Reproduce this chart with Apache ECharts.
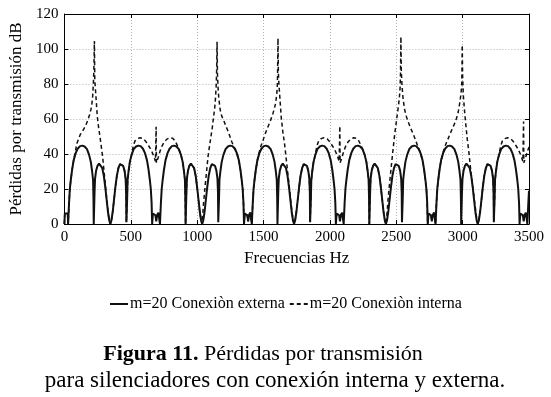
<!DOCTYPE html>
<html><head><meta charset="utf-8">
<script src="https://cdn.jsdelivr.net/npm/echarts@6/dist/echarts.min.js"></script>
<style>html,body{margin:0;padding:0;background:#fff}#c{width:551px;height:397px}</style>
</head><body><div id="c"></div>
<script>
// X axis (Hz) and Y axis (dB) ranges / ticks
const xMin = 0, xMax = 3500, xStep = 500;
const yMin = 0, yMax = 120, yStep = 20;
const xTitle = 'Frecuencias Hz';
const yTitle = 'Pérdidas por transmisión dB';
const seriesNames = ['m=20 Conexiòn externa', 'm=20 Conexiòn interna'];

// m=20 Conexiòn externa : [Hz, dB]
const externa = [
[0,0],[3,6],[16,6.5],[25,6],[28,0],
[31,0],[35,12],[41,20],[48,25],[58,31],[70,36.5],[85,40.5],[100,43],[118,44.5],[135,44.8],[152,44.3],[170,42.8],[186,39.5],[199,35.5],[209,30],[216,25],[219,15],[221,0],
[225,0],[227,18],[231,26],[239,30.5],[249,33.2],[261,34.5],[273,34.2],[285,32],[297,27.5],[308,21],[318,14],[328,7],[338,2],[346,0],
[354,2],[364,7],[374,14],[384,21],[395,27.5],[407,32],[419,34.2],[431,34.5],[443,33.2],[453,30.5],[461,26],[465,18],[467,1],
[471,0],[473,15],[476,25],[483,30],[493,35.5],[506,39.5],[522,42.8],[540,44.3],[557,44.8],[574,44.5],[592,43],[607,40.5],[622,36.5],[634,31],[644,25],[651,20],[657,12],[661,0],
[664,0],[667,6],[676,6.5],[686,5],[692,1.5],[698,5],[708,6.5],[717,6],[720,0],
[723,0],[727,12],[733,20],[740,25],[750,31],[762,36.5],[777,40.5],[792,43],[810,44.5],[827,44.8],[844,44.3],[862,42.8],[878,39.5],[891,35.5],[901,30],[908,25],[911,15],[913,0],
[917,0],[919,18],[923,26],[931,30.5],[941,33.2],[953,34.5],[965,34.2],[977,32],[989,27.5],[1000,21],[1010,14],[1020,7],[1030,2],[1038,0],
[1046,2],[1056,7],[1066,14],[1076,21],[1087,27.5],[1099,32],[1111,34.2],[1123,34.5],[1135,33.2],[1145,30.5],[1153,26],[1157,18],[1159,1],
[1163,0],[1165,15],[1168,25],[1175,30],[1185,35.5],[1198,39.5],[1214,42.8],[1232,44.3],[1249,44.8],[1266,44.5],[1284,43],[1299,40.5],[1314,36.5],[1326,31],[1336,25],[1343,20],[1349,12],[1353,0],
[1356,0],[1359,6],[1368,6.5],[1378,5],[1384,1.5],[1390,5],[1400,6.5],[1409,6],[1412,0],
[1415,0],[1419,12],[1425,20],[1432,25],[1442,31],[1454,36.5],[1469,40.5],[1484,43],[1502,44.5],[1519,44.8],[1536,44.3],[1554,42.8],[1570,39.5],[1583,35.5],[1593,30],[1600,25],[1603,15],[1605,0],
[1609,0],[1611,18],[1615,26],[1623,30.5],[1633,33.2],[1645,34.5],[1657,34.2],[1669,32],[1681,27.5],[1692,21],[1702,14],[1712,7],[1722,2],[1730,0],
[1738,2],[1748,7],[1758,14],[1768,21],[1779,27.5],[1791,32],[1803,34.2],[1815,34.5],[1827,33.2],[1837,30.5],[1845,26],[1849,18],[1851,1],
[1855,0],[1857,15],[1860,25],[1867,30],[1877,35.5],[1890,39.5],[1906,42.8],[1924,44.3],[1941,44.8],[1958,44.5],[1976,43],[1991,40.5],[2006,36.5],[2018,31],[2028,25],[2035,20],[2041,12],[2045,0],
[2048,0],[2051,6],[2060,6.5],[2070,5],[2076,1.5],[2082,5],[2092,6.5],[2101,6],[2104,0],
[2107,0],[2111,12],[2117,20],[2124,25],[2134,31],[2146,36.5],[2161,40.5],[2176,43],[2194,44.5],[2211,44.8],[2228,44.3],[2246,42.8],[2262,39.5],[2275,35.5],[2285,30],[2292,25],[2295,15],[2297,0],
[2301,0],[2303,18],[2307,26],[2315,30.5],[2325,33.2],[2337,34.5],[2349,34.2],[2361,32],[2373,27.5],[2384,21],[2394,14],[2404,7],[2414,2],[2422,0],
[2430,2],[2440,7],[2450,14],[2460,21],[2471,27.5],[2483,32],[2495,34.2],[2507,34.5],[2519,33.2],[2529,30.5],[2537,26],[2541,18],[2543,1],
[2547,0],[2549,15],[2552,25],[2559,30],[2569,35.5],[2582,39.5],[2598,42.8],[2616,44.3],[2633,44.8],[2650,44.5],[2668,43],[2683,40.5],[2698,36.5],[2710,31],[2720,25],[2727,20],[2733,12],[2737,0],
[2740,0],[2743,6],[2752,6.5],[2762,5],[2768,1.5],[2774,5],[2784,6.5],[2793,6],[2796,0],
[2799,0],[2803,12],[2809,20],[2816,25],[2826,31],[2838,36.5],[2853,40.5],[2868,43],[2886,44.5],[2903,44.8],[2920,44.3],[2938,42.8],[2954,39.5],[2967,35.5],[2977,30],[2984,25],[2987,15],[2989,0],
[2993,0],[2995,18],[2999,26],[3007,30.5],[3017,33.2],[3029,34.5],[3041,34.2],[3053,32],[3065,27.5],[3076,21],[3086,14],[3096,7],[3106,2],[3114,0],
[3122,2],[3132,7],[3142,14],[3152,21],[3163,27.5],[3175,32],[3187,34.2],[3199,34.5],[3211,33.2],[3221,30.5],[3229,26],[3233,18],[3235,1],
[3239,0],[3241,15],[3244,25],[3251,30],[3261,35.5],[3274,39.5],[3290,42.8],[3308,44.3],[3325,44.8],[3342,44.5],[3360,43],[3375,40.5],[3390,36.5],[3402,31],[3412,25],[3419,20],[3425,12],[3429,0],
[3432,0],[3435,6],[3444,6.5],[3454,5],[3460,1.5],[3466,5],[3476,6.5],[3485,6],[3488,0],
[3491,0],[3495,12],[3500,19]
];

// m=20 Conexiòn interna : [Hz, dB]
const interna = [
[0,0],[3,6],[16,6.5],[25,6],[28,0],
[31,0],[35,12],[41,20],[48,25],[58,31],[70,36.5],[78,39.5],[94,46],[119,51],[140,53.5],[156,55.6],[175,59],[189,62.3],[200,65.5],[206,68],[213,73],[218,80],[222,88],[226,104.6],
[229,82],[236,74.7],[248,61.3],[258,55],[268,49.9],[288,38.5],[305,25.1],[322,11.8],[334,4],[346,0],
[354,2],[364,7],[374,14],[384,21],[395,27.5],[407,32],[419,34.2],[431,34.5],[443,33.2],[453,30.5],[461,26],[465,18],[467,1],
[471,0],[473,15],[476,25],[483,30],[493,35.5],[506,39.5],[512,42],[520,45],[532,47.5],[550,48.8],[570,49.3],[595,48.7],[615,47],[632,45],[650,42.8],[665,40.3],[677,37.8],[686,35.8],[690,35],[691,55.6],[693,35],[698,36],[707,38],[720,41.5],[735,44.5],[752,46.8],[772,48.5],[795,49.3],[815,49],[832,47.7],[847,45.5],[858,43.5],[866,41.9],
[878,39.5],[891,35.5],[901,30],[908,25],[911,15],[913,0],
[917,0],[919,18],[923,26],[931,30.5],[941,33.2],[953,34.5],[965,34.2],[977,32],[989,27.5],[1000,21],[1010,14],[1020,7],[1030,2],[1038,0],
[1046,10],[1062,23.2],[1082,38.5],[1094,45],[1104,49.9],[1114,55],[1124,61.3],[1132,66],[1139,72.7],[1144,80],[1147,88],[1150,104.2],
[1153,86],[1157,78.5],[1163,72],[1174,65.1],[1186,61.5],[1199,59.4],[1214,56.5],[1229,53.7],[1245,50.5],[1261,47],[1275,44.5],[1288,42.5],
[1299,40.5],[1314,36.5],[1326,31],[1336,25],[1343,20],[1349,12],[1353,0],
[1356,0],[1359,6],[1368,6.5],[1378,5],[1384,1.5],[1390,5],[1400,6.5],[1409,6],[1412,0],
[1415,0],[1419,12],[1425,20],[1432,25],[1442,31],[1454,36.5],[1461,39],[1478,44],[1497,48],[1515,52],[1534,55.6],[1552,59],[1571,63.2],[1582,66],[1591,69],[1598,73],[1603,77],[1606,86],[1609,106.1],
[1612,86],[1616,80],[1621,74.7],[1633,61.3],[1645,53],[1658,46.1],[1670,38],[1683,29],[1695,20.5],[1707,11.8],[1718,5],[1730,0],
[1738,2],[1748,7],[1758,14],[1768,21],[1779,27.5],[1791,32],[1803,34.2],[1815,34.5],[1827,33.2],[1837,30.5],[1845,26],[1849,18],[1851,1],
[1855,0],[1857,15],[1860,25],[1867,30],[1877,35.5],[1890,39.5],[1896,42],[1904,45],[1916,47.5],[1934,48.8],[1954,49.3],[1979,48.7],[1999,47],[2016,45],[2034,42.8],[2049,40.3],[2061,37.8],[2070,35.8],[2074,35],[2075,56],[2077,35],[2082,36],[2091,38],[2104,41.5],[2119,44.5],[2136,46.8],[2156,48.5],[2179,49.3],[2199,49],[2216,47.7],[2231,45.5],[2242,43.5],[2250,41.9],
[2262,39.5],[2275,35.5],[2285,30],[2292,25],[2295,15],[2297,0],
[2301,0],[2303,18],[2307,26],[2315,30.5],[2325,33.2],[2337,34.5],[2349,34.2],[2361,32],[2373,27.5],[2384,21],[2394,14],[2404,7],[2414,2],[2422,0],
[2430,6],[2440,15.6],[2452,25],[2465,34.7],[2477,43.5],[2489,51.8],[2499,57.5],[2509,63.2],[2518,68.5],[2524,72.7],[2529,78],[2532,86],[2535,107],
[2538,87],[2544,78.5],[2552,71],[2564,65.1],[2576,61.5],[2589,58.5],[2607,55],[2626,51.8],[2645,48],[2663,44.2],[2675,42],
[2683,40.5],[2698,36.5],[2710,31],[2720,25],[2727,20],[2733,12],[2737,0],
[2740,0],[2743,6],[2752,6.5],[2762,5],[2768,1.5],[2774,5],[2784,6.5],[2793,6],[2796,0],
[2799,0],[2803,12],[2809,20],[2816,25],[2826,31],[2838,36.5],[2845,38.5],[2852,40.8],[2870,45],[2887,48],[2905,51.5],[2924,54.7],[2940,57.5],[2954,60.4],[2967,64],[2978,69],[2987,74],[2993,79],[2995,88],[2997,102.3],
[3000,84],[3003,78],[3006,72.7],[3014,65],[3023,57.5],[3035,48.5],[3048,40.4],[3060,31.5],[3073,23.2],[3086,15],[3098,8],[3106,3],[3114,0],
[3122,2],[3132,7],[3142,14],[3152,21],[3163,27.5],[3175,32],[3187,34.2],[3199,34.5],[3211,33.2],[3221,30.5],[3229,26],[3233,18],[3235,1],
[3239,0],[3241,15],[3244,25],[3251,30],[3261,35.5],[3274,39.5],[3280,42],[3288,45],[3300,47.5],[3318,48.8],[3338,49.3],[3363,48.7],[3383,47],[3400,45],[3418,42.8],[3433,40.3],[3445,37.8],[3454,35.8],[3458,35],[3459,58.5],[3461,35],[3466,36],[3475,38],[3488,41.5],[3500,44]
];

const captionBold = 'Figura 11.';
const captionLine1 = ' Pérdidas por transmisión';
const captionLine2 = 'para silenciadores con conexión interna y externa.';

const FONT = '"Liberation Serif", "Times New Roman", serif';
const chart = echarts.init(document.getElementById('c'), null, {renderer: 'canvas'});

const frameAxisX = {type: 'value', min: xMin, max: xMax, interval: xStep,
  axisLine: {show: true, onZero: false, lineStyle: {color: '#000', width: 1}},
  axisTick: {show: true, inside: true, length: 4, lineStyle: {color: '#000'}},
  splitLine: {show: false}};
const frameAxisY = {type: 'value', min: yMin, max: yMax, interval: yStep,
  axisLine: {show: true, onZero: false, lineStyle: {color: '#000', width: 1}},
  axisTick: {show: true, inside: true, length: 4, lineStyle: {color: '#000'}},
  splitLine: {show: false}};

const plain = v => String(v);

chart.setOption({
  animation: false,
  backgroundColor: '#fff',
  grid: {left: 59, right: 22, top: 14, bottom: 173, containLabel: false},
  legend: {
    left: 105, top: 291, itemWidth: 18, itemHeight: 2, itemGap: 5,
    symbolKeepAspect: false,
    textStyle: {fontFamily: FONT, fontSize: 16, color: '#000', padding: [0, 0, 0, -3]},
    data: [
      {name: seriesNames[0], icon: 'path://M0,0h18v2h-18z'},
      {name: seriesNames[1], icon: 'path://M0,0h4v2h-4zM7,0h4v2h-4zM14,0h4v2h-4z'}
    ]
  },
  xAxis: [
    Object.assign({}, frameAxisX, {
      position: 'bottom',
      name: xTitle, nameLocation: 'middle', nameGap: 24,
      nameTextStyle: {fontFamily: FONT, fontSize: 17, color: '#000'},
      axisLabel: {show: true, margin: 6, fontFamily: FONT, fontSize: 15, color: '#000', formatter: plain},
      splitLine: {show: true, lineStyle: {color: '#b4b4b4', type: [1, 2], width: 1}}
    }),
    Object.assign({}, frameAxisX, {position: 'top', axisLabel: {show: false}})
  ],
  yAxis: [
    Object.assign({}, frameAxisY, {
      position: 'left',
      name: yTitle, nameLocation: 'middle', nameGap: 34,
      nameTextStyle: {fontFamily: FONT, fontSize: 17, color: '#000'},
      axisLabel: {show: true, margin: 6, fontFamily: FONT, fontSize: 15, color: '#000', formatter: plain},
      splitLine: {show: true, lineStyle: {color: '#b4b4b4', type: [1, 2], width: 1}}
    }),
    Object.assign({}, frameAxisY, {position: 'right', axisLabel: {show: false}})
  ],
  series: [
    {name: seriesNames[0], type: 'line', data: externa, showSymbol: false, symbol: 'none',
     clip: true, lineStyle: {color: '#111', width: 2, type: 'solid'}, itemStyle: {color: '#111'}, z: 3},
    {name: seriesNames[1], type: 'line', data: interna, showSymbol: false, symbol: 'none',
     clip: true, lineStyle: {color: '#111', width: 1.5, type: [4, 3]}, itemStyle: {color: '#111'}, z: 2}
  ],
  graphic: [
    {type: 'text', x: 263, y: 354, style: {
      text: '{b|' + captionBold + '}{n|' + captionLine1 + '}',
      rich: {
        b: {fontFamily: FONT, fontSize: 22, fontWeight: 'bold', fill: '#000', color: '#000'},
        n: {fontFamily: FONT, fontSize: 22, fill: '#000', color: '#000'}
      },
      fontFamily: FONT, fontSize: 22, fill: '#000', align: 'center', verticalAlign: 'middle'}},
    {type: 'text', x: 275, y: 381, style: {
      text: captionLine2, fontFamily: FONT, fontSize: 23, fill: '#000',
      align: 'center', verticalAlign: 'middle'}}
  ]
});
</script>
</body></html>
